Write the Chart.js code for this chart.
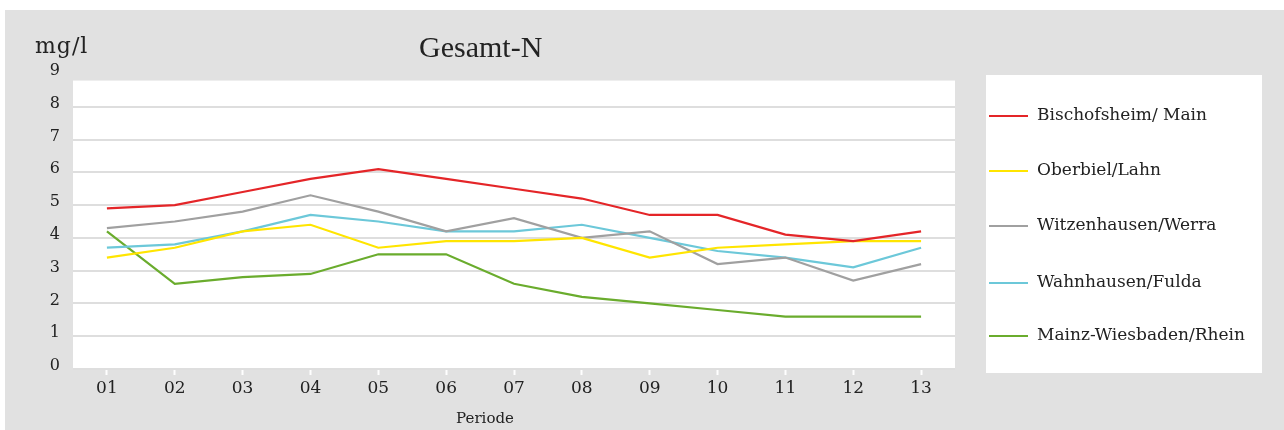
<!DOCTYPE html>
<html><head><meta charset="utf-8">
<script src="https://cdn.jsdelivr.net/npm/chart.js@4/dist/chart.umd.min.js"></script>
<style>
html,body{margin:0;padding:0;background:#fff;}
#wrap{position:absolute;left:5px;top:10px;width:1279px;height:420px;background:#e1e1e1;}
canvas{display:block;}
</style></head><body>
<div id="wrap"><canvas id="c" width="1279" height="420"></canvas></div>
<script>
const categories = ['01','02','03','04','05','06','07','08','09','10','11','12','13'];
const yTickLabels = ['0','1','2','3','4','5','6','7','8','9'];
const seriesNames = ['Bischofsheim/ Main','Oberbiel/Lahn','Witzenhausen/Werra','Wahnhausen/Fulda','Mainz-Wiesbaden/Rhein'];
const bischofsheim = [4.9,5.0,5.4,5.8,6.1,5.8,5.5,5.2,4.7,4.7,4.1,3.9,4.2];
const oberbiel     = [3.4,3.7,4.2,4.4,3.7,3.9,3.9,4.0,3.4,3.7,3.8,3.9,3.9];
const witzenhausen = [4.3,4.5,4.8,5.3,4.8,4.2,4.6,4.0,4.2,3.2,3.4,2.7,3.2];
const wahnhausen   = [3.7,3.8,4.2,4.7,4.5,4.2,4.2,4.4,4.0,3.6,3.4,3.1,3.7];
const mainz        = [4.2,2.6,2.8,2.9,3.5,3.5,2.6,2.2,2.0,1.8,1.6,1.6,1.6];
const chartTitle = 'Gesamt-N';
const unitLabel = 'mg/l';
const xTitle = 'Periode';

const colors = ['#e42528','#ffe500','#a0a0a0','#6cc8d9','#6aac2d'];
const allSeries = [bischofsheim, oberbiel, witzenhausen, wahnhausen, mainz];

const SERIF = '"DejaVu Serif", serif';
const legendRows = [106, 161, 216, 273, 326];

const decor = {
  id: 'decor',
  beforeDraw(chart) {
    const {ctx, chartArea: a, scales: {y}} = chart;
    ctx.save();
    ctx.fillStyle = '#ffffff';
    const top = y.getPixelForValue(8.8);
    ctx.fillRect(a.left, top, a.right - a.left, a.bottom - top);
    ctx.fillRect(981, 65, 276, 298);
    ctx.restore();
  },
  afterDraw(chart) {
    const ctx = chart.ctx;
    ctx.save();
    ctx.fillStyle = '#222';
    ctx.textBaseline = 'alphabetic';
    ctx.textAlign = 'left';
    ctx.font = '30px "Liberation Serif", serif';
    ctx.fillText(chartTitle, 414, 47);
    ctx.font = '22px ' + SERIF;
    try { ctx.letterSpacing = '1px'; } catch (e) {}
    ctx.fillText(unitLabel, 30, 43);
    try { ctx.letterSpacing = '0px'; } catch (e) {}
    ctx.font = '15px ' + SERIF;
    ctx.textAlign = 'center';
    ctx.fillText(xTitle, 480, 413);
    // legend
    ctx.textAlign = 'left';
    ctx.textBaseline = 'middle';
    ctx.font = '17px ' + SERIF;
    chart.data.datasets.forEach((ds, i) => {
      const yy = legendRows[i];
      ctx.strokeStyle = ds.borderColor;
      ctx.lineWidth = 2;
      ctx.beginPath();
      ctx.moveTo(984, yy);
      ctx.lineTo(1023, yy);
      ctx.stroke();
      ctx.fillStyle = '#222';
      ctx.fillText(ds.label, 1032, yy);
    });
    ctx.restore();
  }
};

new Chart(document.getElementById('c'), {
  type: 'line',
  data: {
    labels: categories,
    datasets: allSeries.map((d, i) => ({
      label: seriesNames[i],
      data: d,
      borderColor: colors[i],
      backgroundColor: colors[i],
      borderWidth: 2.2,
      pointRadius: 0,
      tension: 0,
      fill: false
    }))
  },
  options: {
    responsive: false,
    animation: false,
    devicePixelRatio: 1,
    layout: { padding: { top: 64, right: 329, left: 0, bottom: 0 } },
    plugins: { legend: { display: false }, title: { display: false }, tooltip: { enabled: false } },
    scales: {
      x: {
        offset: true,
        border: { display: false },
        grid: { display: true, drawOnChartArea: false, drawTicks: true, tickLength: 6, tickColor: '#ffffff', tickWidth: 2, offset: false },
        ticks: { color: '#222', font: { family: SERIF, size: 17 }, padding: 3, maxRotation: 0 },
        afterFit(s) { s.height = 61; }
      },
      y: {
        min: 0, max: 9,
        border: { display: false },
        grid: { drawTicks: false, lineWidth: 2, color: (c) => (c.tick && c.tick.value === 9) ? 'rgba(0,0,0,0)' : '#dedede' },
        ticks: { stepSize: 1, color: '#222', font: { family: SERIF, size: 16 }, padding: 13, labelOffset: -3,
                 callback: (v) => yTickLabels[v] },
        afterFit(s) { s.width = 68; }
      }
    }
  },
  plugins: [decor]
});
</script>
</body></html>
